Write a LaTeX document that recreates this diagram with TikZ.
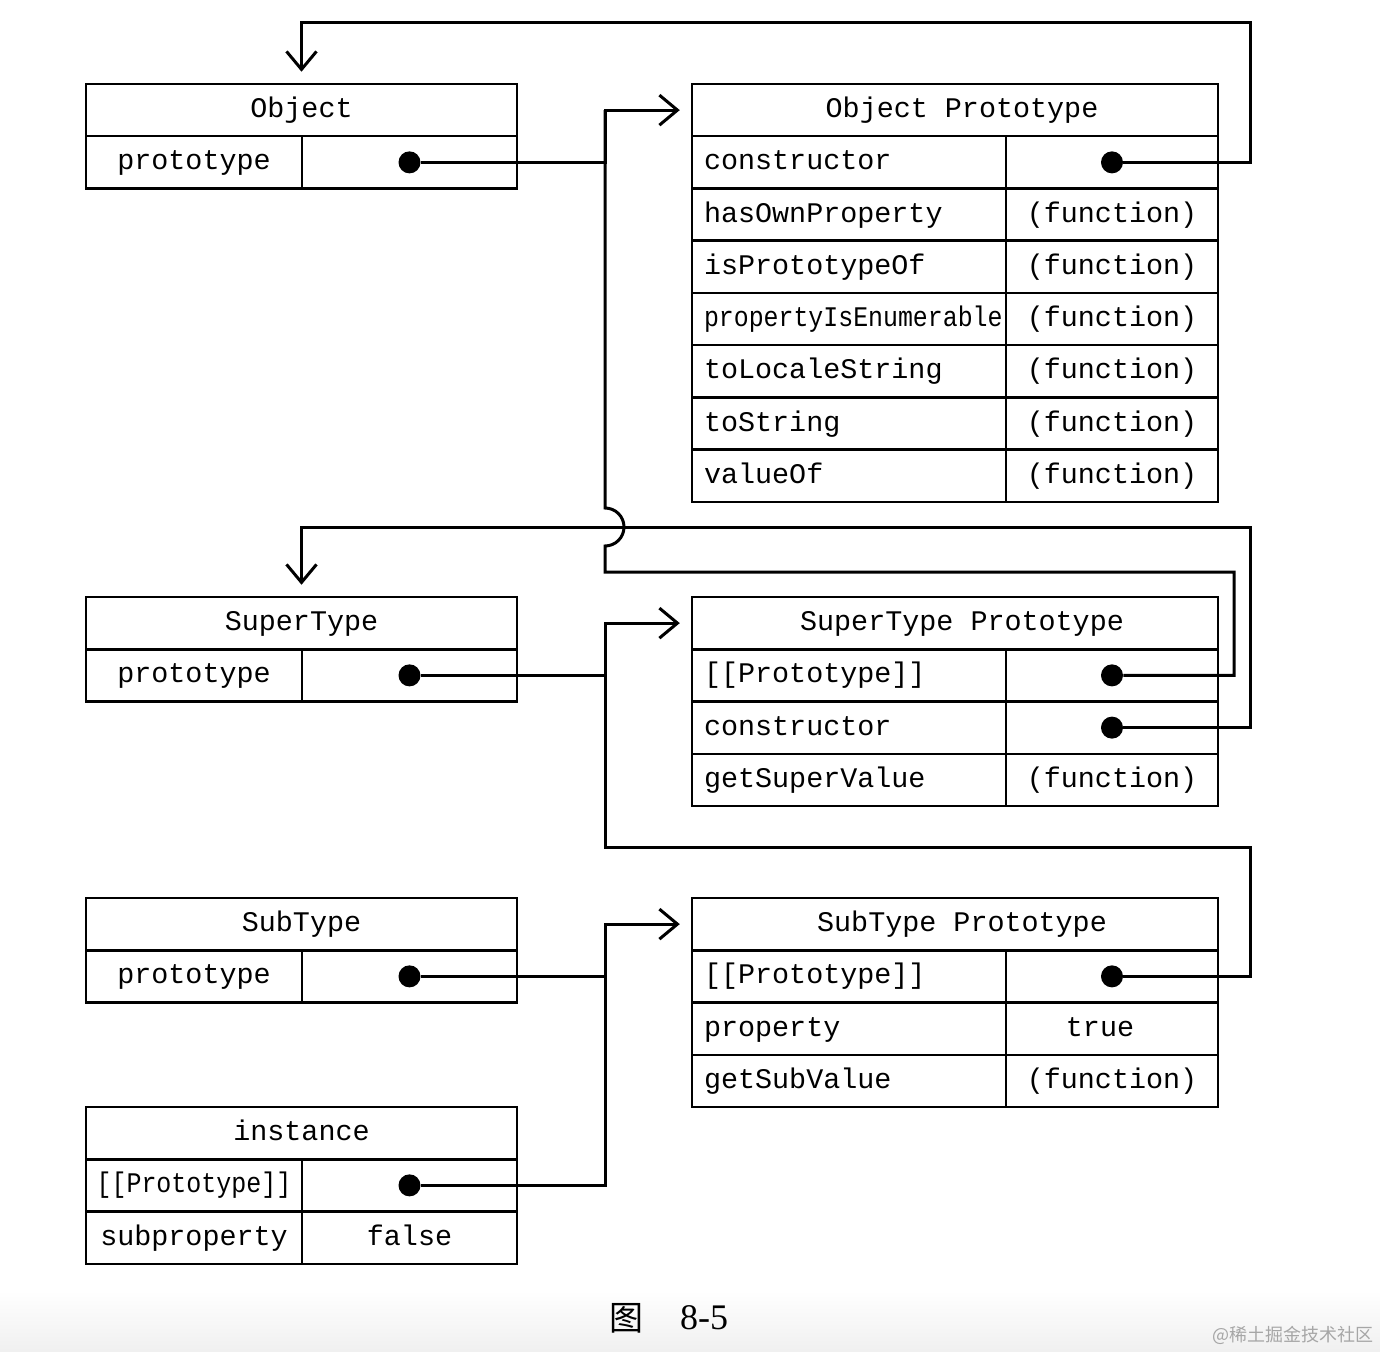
\documentclass[tikz,border=0pt]{standalone}
\usepackage{fontspec}
\usepackage{graphicx}
\setmainfont{Liberation Serif}
\newfontfamily\monof{Liberation Mono}
\newfontfamily\cjkf{Noto Sans CJK SC}
\usetikzlibrary{arrows.meta}
\begin{document}
\begin{tikzpicture}[x=0.5pt,y=-0.5pt,
  cell/.style={draw, line width=1.25pt, inner sep=0pt,
    font={\monof\fontsize{14.2}{16}\selectfont}, text height=0.8em, text depth=0.06em},
  lhead/.style={cell, minimum width=215.5pt, minimum height=26.125pt},
  lkey/.style={cell, minimum width=108pt, minimum height=26.125pt},
  lval/.style={cell, minimum width=107.5pt, minimum height=26.125pt},
  rhead/.style={cell, minimum width=263pt, minimum height=26.125pt},
  rkey/.style={cell, text width=145pt, align=left, inner xsep=6pt, minimum height=26.125pt},
  rval/.style={cell, minimum width=106pt, minimum height=26.125pt},
  dot/.style={circle, fill=black, inner sep=0pt, minimum size=11pt},
  conn/.style={line width=1.5pt},
  arr/.style={conn, -{Straight Barb[length=9pt,width=15pt,line width=1.5pt]}, shorten >=5.5pt},
]
\useasboundingbox (0,0) rectangle (1380,1352);
\fill[white] (0,0) rectangle (1380,1352);
\shade[top color=white, bottom color=black!6] (0,1290) rectangle (1380,1352);

% ---------- Object ----------
\node[lhead] (oH) at (301.5,110.125) {Object};
\node[lkey] (oK) at (194,162.375) {prototype};
\node[lval] (oV) at (409.5,162.375) {};
\node[dot] (oD) at (oV.center) {};

% ---------- Object Prototype ----------
\node[rhead] (opH) at (955,110.125) {\hspace*{7pt}Object Prototype};
\node[rkey] (op1K) at (849,162.375) {constructor};
\node[rval] (op1V) at (1112,162.375) {};
\node[dot] (opcD) at (op1V.center) {};
\node[rkey] (op2K) at (849,214.625) {hasOwnProperty};
\node[rval] (op2V) at (1112,214.625) {(function)};
\node[rkey] (op3K) at (849,266.875) {isPrototypeOf};
\node[rval] (op3V) at (1112,266.875) {(function)};
\node[rkey] (op4K) at (849,319.125) {\scalebox{0.876}[1]{propertyIsEnumerable}};
\node[rval] (op4V) at (1112,319.125) {(function)};
\node[rkey] (op5K) at (849,371.375) {toLocaleString};
\node[rval] (op5V) at (1112,371.375) {(function)};
\node[rkey] (op6K) at (849,423.625) {toString};
\node[rval] (op6V) at (1112,423.625) {(function)};
\node[rkey] (op7K) at (849,475.875) {valueOf};
\node[rval] (op7V) at (1112,475.875) {(function)};

% ---------- SuperType ----------
\node[lhead] (sH) at (301.5,623.125) {SuperType};
\node[lkey] (sK) at (194,675.375) {prototype};
\node[lval] (sV) at (409.5,675.375) {};
\node[dot] (sD) at (sV.center) {};

% ---------- SuperType Prototype ----------
\node[rhead] (spH) at (955,623.125) {\hspace*{7pt}SuperType Prototype};
\node[rkey] (sp1K) at (849,675.375) {[[Prototype]]};
\node[rval] (sp1V) at (1112,675.375) {};
\node[dot] (sppD) at (sp1V.center) {};
\node[rkey] (sp2K) at (849,727.625) {constructor};
\node[rval] (sp2V) at (1112,727.625) {};
\node[dot] (spcD) at (sp2V.center) {};
\node[rkey] (sp3K) at (849,779.875) {getSuperValue};
\node[rval] (sp3V) at (1112,779.875) {(function)};

% ---------- SubType ----------
\node[lhead] (bH) at (301.5,924.125) {SubType};
\node[lkey] (bK) at (194,976.375) {prototype};
\node[lval] (bV) at (409.5,976.375) {};
\node[dot] (bD) at (bV.center) {};

% ---------- SubType Prototype ----------
\node[rhead] (bpH) at (955,924.125) {\hspace*{7pt}SubType Prototype};
\node[rkey] (bp1K) at (849,976.375) {[[Prototype]]};
\node[rval] (bp1V) at (1112,976.375) {};
\node[dot] (bppD) at (bp1V.center) {};
\node[rkey] (bp2K) at (849,1028.625) {property};
\node[rval] (bp2V) at (1112,1028.625) {\hspace*{-12pt}true};
\node[rkey] (bp3K) at (849,1080.875) {getSubValue};
\node[rval] (bp3V) at (1112,1080.875) {(function)};

% ---------- instance ----------
\node[lhead] (iH) at (301.5,1133.125) {instance};
\node[lkey] (i1K) at (194,1185.375) {\scalebox{0.88}[1]{[[Prototype]]}};
\node[lval] (i1V) at (409.5,1185.375) {};
\node[dot] (iD) at (i1V.center) {};
\node[lkey] (i2K) at (194,1237.625) {subproperty};
\node[lval] (i2V) at (409.5,1237.625) {false};

% ---------- connectors ----------
\draw[arr] (oD) -- (605,162.375) |- (opH);
\draw[arr] (opcD) -- (1250,162.375) -- (1250,23) -| (oH);
\draw[arr] (sD) -- (605,675.375) |- (spH);
\draw[conn] (sppD) -- (1234,675.375) -- (1234,572) -- (605,572) -- (605,546)
  arc[start angle=-90, end angle=90, radius=9.5pt] -- (605,110.125);
\draw[arr] (spcD) -- (1250,727.625) -- (1250,527) -| (sH);
\draw[arr] (bD) -- (605,976.375) |- (bpH);
\draw[conn] (bppD) -- (1250,976.375) -- (1250,847) -- (605,847) -- (605,623.125);
\draw[conn] (iD) -- (605,1185.375) -- (605,924.125);

% ---------- caption ----------
\node[font={\cjkf\fontsize{17}{20}\selectfont}] (capA) at (626,1318) {图};
\node[font={\fontsize{18}{22}\selectfont}] (capB) at (704,1318) {8-5};
\node[text=black!35, font={\cjkf\fontsize{9}{11}\selectfont}] (wm) at (1293,1335) {@稀土掘金技术社区};
\end{tikzpicture}
\end{document}
